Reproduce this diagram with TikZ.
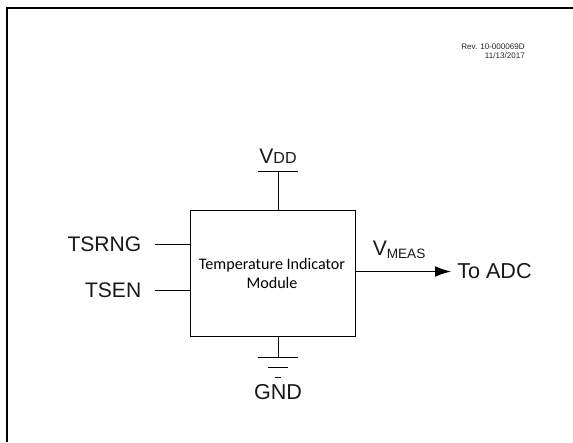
\documentclass[tikz,border=0pt]{standalone}
\usepackage{fontspec}
\setmainfont{Liberation Sans}
\newfontfamily\carl{Carlito}
\usetikzlibrary{arrows.meta}
\tikzset{x=0.75pt,y=-0.75pt,
 lab/.style={inner sep=0pt,font=\fontsize{15.8}{18}\selectfont,text=black!90},
 wire/.style={draw=black,line width=0.75pt}}
\begin{document}
\begin{tikzpicture}
\useasboundingbox (0,0) rectangle (573,442);
\fill[white] (0,0) rectangle (573,442);
\draw[black,line width=1.6pt] (7,442) -- (7,8) -- (573,8);
\node[inner sep=0pt,align=right,anchor=north east,font=\fontsize{6.05}{7.1}\selectfont,text=black!85] (rev) at (525,43.5) {Rev. 10-000069D\\11/13/2017};
\coordinate (tl) at (190,210);
\coordinate (br) at (355,336.5);
\draw[wire] (tl) rectangle (br);
\node[inner sep=0pt,align=center,font=\carl\fontsize{12.1}{14.3}\selectfont] (mod) at (272,273.5) {Temperature Indicator\\Module};
\node[lab,anchor=base] (vdd) at (278,163.5) {V\fontsize{12}{14}\selectfont DD};
\coordinate (vt) at (278,171.5);
\coordinate (vb) at (278,210);
\draw[wire] (vt) -- (vb);
\draw[wire] (258,171.5) -- (298,171.5);
\coordinate (gt) at (278,336.5);
\coordinate (gb) at (278,357);
\draw[wire] (gt) -- (gb);
\draw[wire] (258,357) -- (298,357);
\draw[wire] (268,367) -- (288,367);
\draw[wire] (274.5,377.5) -- (281,377.5);
\node[lab,font=\fontsize{16.2}{18}\selectfont,anchor=base] (gnd) at (278,399) {GND};
\node[lab,anchor=base east] (tsrng) at (141.5,251) {TSRNG};
\node[lab,anchor=base east] (tsen) at (141.5,297) {TSEN};
\coordinate (a1) at (155,244.5);
\coordinate (a2) at (190,244.5);
\coordinate (b1) at (155,290.5);
\coordinate (b2) at (190,290.5);
\draw[wire] (a1) -- (a2);
\draw[wire] (b1) -- (b2);
\coordinate (m1) at (355,271.5);
\coordinate (m2) at (451,271.5);
\draw[wire,-{Latex[length=12pt,width=8pt]}] (m1) -- (m2);
\node[lab,anchor=base west] (vm) at (372.5,255.5) {V\raisebox{-2.2pt}{\fontsize{10.2}{12}\selectfont MEAS}};
\node[lab,font=\fontsize{16.2}{18}\selectfont,anchor=base west] (adc) at (457,278.5) {To ADC};
\end{tikzpicture}
\end{document}
